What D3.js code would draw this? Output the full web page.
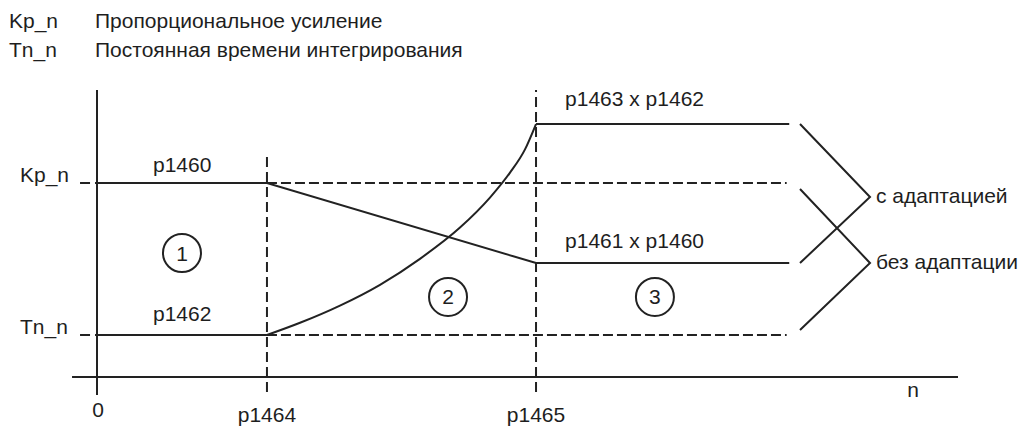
<!DOCTYPE html>
<html>
<head>
<meta charset="utf-8">
<script src="https://cdn.jsdelivr.net/npm/d3@7"></script>
<style>
  html, body { margin: 0; padding: 0; background: #fff; }
  svg { display: block; }
  text { font-family: "Liberation Sans", Arial, sans-serif; fill: #1e1e1e; }
</style>
</head>
<body>
<svg id="chart" width="1031" height="427"></svg>
<script>
// ---- data (abstract units: x 0..100 along n, y 0..100 along gain) ----
const legendKeys = ["Kp_n", "Tn_n"];
const legendTexts = ["Пропорциональное усиление", "Постоянная времени интегрирования"];

const xTicks = [0, 19.74, 50.99];
const xTickLabels = ["0", "p1464", "p1465"];
const axisLabelX = "n";

const levelNames = ["Kp_n", "Tn_n"];
const levelValues = [67.6, 14.63];

const kpSegX = [0, 19.74, 50.99, 80.4];
const kpSegY = [67.6, 67.6, 39.72, 39.72];

const tnCurveX = [0, 19.74, 23.58, 28.22, 32.87, 37.51, 42.16, 45.64, 47.97, 49.71, 50.99, 80.4];
const tnCurveY = [14.63, 14.63, 18.89, 24.88, 32.13, 41.18, 52.06, 62.51, 71.22, 79.32, 88.15, 88.15];

const segLabels = ["p1460", "p1462", "p1463 x p1462", "p1461 x p1460"];
const segLabelX = [6.5, 6.5, 54.36, 54.36];
const segLabelY = [71.6, 19.5, 94.3, 44.9];

const regionNums = ["1", "2", "3"];
const regionX = [9.87, 40.77, 64.8];
const regionY = [43.2, 27.9, 27.9];

const bracketNames = ["с адаптацией", "без адаптации"];
const bracketStartX = 81.65, bracketTipX = 89.78;
const bracketTopY = [88.15, 65.5];
const bracketBottomY = [39.72, 16.4];
const bracketTipY = [62.7, 39.72];

// ---- scales ----
const x = d3.scaleLinear().domain([0, 100]).range([97, 958]);
const y = d3.scaleLinear().domain([0, 100]).range([377, 90]);

const svg = d3.select("#chart");
const ink = "#222";
const sw = 2;
const fs = 21;

// legend at the top
legendKeys.forEach((k, i) => {
  svg.append("text").attr("x", 9).attr("y", 28 + i * 29).attr("font-size", fs).text(k);
  svg.append("text").attr("x", 95).attr("y", 28 + i * 29).attr("font-size", fs).text(legendTexts[i]);
});

const g = svg.append("g");

// axes
g.append("line").attr("x1", x(-2.9)).attr("x2", x(100)).attr("y1", y(0)).attr("y2", y(0))
  .attr("stroke", ink).attr("stroke-width", sw);
g.append("line").attr("x1", x(0)).attr("x2", x(0)).attr("y1", y(-6.3)).attr("y2", y(100))
  .attr("stroke", ink).attr("stroke-width", sw);

// vertical dashed markers at p1464, p1465
const vTops = [78.0, 100];
[1, 2].forEach((ti, j) => {
  g.append("line").attr("x1", x(xTicks[ti])).attr("x2", x(xTicks[ti]))
    .attr("y1", y(-5.2)).attr("y2", y(vTops[j]))
    .attr("stroke", ink).attr("stroke-width", sw).attr("stroke-dasharray", "10,5");
});

// tick labels
xTicks.forEach((v, i) => {
  g.append("text").attr("x", x(v) + (i === 0 ? 1 : 0)).attr("y", i === 0 ? 417 : 422)
    .attr("text-anchor", "middle").attr("font-size", fs).text(xTickLabels[i]);
});
g.append("text").attr("x", x(94.1)).attr("y", 397).attr("font-size", fs).text(axisLabelX);

// level labels and dashed reference lines
levelNames.forEach((n, i) => {
  g.append("text").attr("x", 20).attr("y", y(levelValues[i]) - 1).attr("font-size", fs).text(n);
  g.append("line").attr("x1", x(-1.97)).attr("x2", x(0)).attr("y1", y(levelValues[i])).attr("y2", y(levelValues[i]))
    .attr("stroke", ink).attr("stroke-width", sw).attr("stroke-dasharray", "10,5");
  g.append("line").attr("x1", x(xTicks[1])).attr("x2", x(80.1)).attr("y1", y(levelValues[i])).attr("y2", y(levelValues[i]))
    .attr("stroke", ink).attr("stroke-width", sw).attr("stroke-dasharray", "10,4");
});

const lin = d3.line().x(d => x(d[0])).y(d => y(d[1]));
const mono = d3.line().x(d => x(d[0])).y(d => y(d[1])).curve(d3.curveMonotoneX);

// Kp adaptation line
const kpPts = kpSegX.map((v, i) => [v, kpSegY[i]]);
g.append("path").attr("d", lin(kpPts))
  .attr("fill", "none").attr("stroke", ink).attr("stroke-width", sw);

// Tn adaptation curve
const tnPts = tnCurveX.map((v, i) => [v, tnCurveY[i]]);
const flat1 = tnPts.slice(0, 2), curve = tnPts.slice(1, 11), flat2 = tnPts.slice(10);
[lin(flat1), mono(curve), lin(flat2)].forEach(dd => {
  g.append("path").attr("d", dd).attr("fill", "none").attr("stroke", ink).attr("stroke-width", sw);
});

// segment labels
segLabels.forEach((s, i) => {
  g.append("text").attr("x", x(segLabelX[i])).attr("y", y(segLabelY[i])).attr("font-size", fs).text(s);
});

// circled region numbers
regionNums.forEach((n, i) => {
  g.append("circle").attr("cx", x(regionX[i])).attr("cy", y(regionY[i])).attr("r", 19)
    .attr("fill", "none").attr("stroke", ink).attr("stroke-width", 2);
  g.append("text").attr("x", x(regionX[i])).attr("y", y(regionY[i]) + 7.5)
    .attr("text-anchor", "middle").attr("font-size", 21).text(n);
});

// brackets
bracketNames.forEach((b, i) => {
  const pts = [[bracketStartX, bracketTopY[i]], [bracketTipX, bracketTipY[i]], [bracketStartX, bracketBottomY[i]]];
  g.append("path").attr("d", lin(pts)).attr("fill", "none").attr("stroke", ink).attr("stroke-width", sw);
  g.append("text").attr("x", x(bracketTipX) + 6).attr("y", y(bracketTipY[i]) + 6).attr("font-size", fs).text(b);
});
</script>
</body>
</html>
